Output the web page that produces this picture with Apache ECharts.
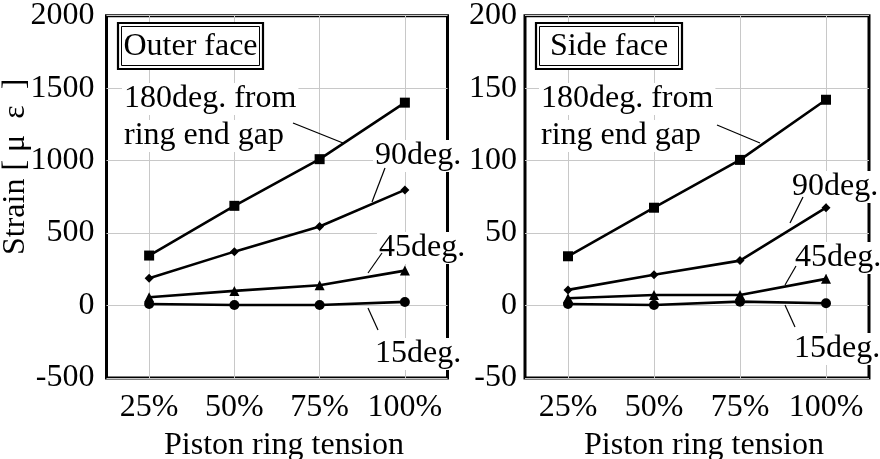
<!DOCTYPE html>
<html><head><meta charset="utf-8">
<script src="https://cdn.jsdelivr.net/npm/echarts@6/dist/echarts.min.js"></script>
<style>html,body{margin:0;padding:0;background:#fff}#c{width:880px;height:459px}</style>
</head><body><div id="c"></div>
<script>
// ---- data ----
const categories = ['25%', '50%', '75%', '100%'];
const outer180 = [345, 688, 1010, 1400];
const outer90 = [188, 372, 545, 798];
const outer45 = [57, 101, 140, 241];
const outer15 = [11, 4, 4, 25];
const side180 = [34, 67.5, 100.5, 142];
const side90 = [10.8, 21.3, 31, 67.5];
const side45 = [5, 7.3, 7.3, 18.4];
const side15 = [1.1, 0.4, 2.7, 1.6];
const outerTicks = [-500, 0, 500, 1000, 1500, 2000];
const sideTicks = [-50, 0, 50, 100, 150, 200];
const seriesNames = ['180deg. from ring end gap', '90deg.', '45deg.', '15deg.'];
const panelTitles = ['Outer face', 'Side face'];
const yName = 'Strain [ μ  ε  ]';
const xName = 'Piston ring tension';

const FONT = '"Liberation Serif", "Times New Roman", serif';
const chart = echarts.init(document.getElementById('c'), null, {renderer: 'canvas'});

const symbols = [['rect', 10], ['diamond', 9], ['triangle', 10], ['circle', 10]];
function mkSeries(arrs, idx) {
  return arrs.map((d, i) => ({
    name: seriesNames[i], type: 'line', xAxisIndex: idx, yAxisIndex: idx, data: d,
    symbol: symbols[i][0], symbolSize: symbols[i][1], showSymbol: true,
    lineStyle: {color: '#000', width: 2.6}, itemStyle: {color: '#000'},
    animation: false, z: 5
  }));
}
function xAx(idx) {
  return {
    type: 'category', gridIndex: idx, data: categories, boundaryGap: true,
    axisLine: {show: false}, axisTick: {show: false},
    axisLabel: {interval: 0, margin: 14, color: '#000', fontFamily: FONT, fontSize: 32},
    splitLine: {show: true, alignWithLabel: true, lineStyle: {color: '#c8c8c8', width: 1}},
    name: xName, nameLocation: 'middle', nameGap: 52,
    nameTextStyle: {color: '#000', fontFamily: FONT, fontSize: 32, padding: [0, 0, 0, 14]}
  };
}
function yAx(idx, ticks, margin, withName) {
  const o = {
    type: 'value', gridIndex: idx, min: ticks[0], max: ticks[ticks.length - 1],
    interval: ticks[1] - ticks[0],
    axisLine: {show: false}, axisTick: {show: false},
    axisLabel: {margin: margin, color: '#000', fontFamily: FONT, fontSize: 32,
      formatter: function (v) { return String(v); }},
    splitLine: {show: true, lineStyle: {color: '#c8c8c8', width: 1}}
  };
  if (withName) {
    Object.assign(o, {
      name: yName, nameLocation: 'middle', nameGap: 75, nameMoveOverlap: false,
      nameTextStyle: {color: '#000', fontFamily: FONT, fontSize: 32, padding: [0, 0, 0, 60]}
    });
  }
  return o;
}

function txt(text, x, y, align) {
  return {type: 'text', x: x, y: y, z: 50,
    style: {text: text, font: '32px ' + FONT, fill: '#000', align: align || 'left',
      verticalAlign: 'middle', backgroundColor: '#fff', padding: [0, 2, 0, 2]}};
}
function ln(x1, y1, x2, y2) {
  return {type: 'line', z: 60, shape: {x1, y1, x2, y2}, style: {stroke: '#000', lineWidth: 1.2}};
}
function box(x, y, w, h, title) {
  return [
    {type: 'rect', z: 50, shape: {x, y, width: w, height: h}, style: {fill: '#fff', stroke: '#000', lineWidth: 2.2}},
    {type: 'rect', z: 51, shape: {x: x + 3.5, y: y + 3.5, width: w - 7, height: h - 7}, style: {fill: 'none', stroke: '#000', lineWidth: 1}},
    {type: 'text', z: 52, x: x + w / 2, y: y + h / 2 + 1, style: {text: title, font: '32px ' + FONT, fill: '#000', align: 'center', verticalAlign: 'middle'}}
  ];
}

const graphics = [].concat(
  box(118, 23, 145, 46, panelTitles[0]),
  box(536, 23, 146, 46, panelTitles[1]),
  [
    txt('180deg. from', 122, 99), txt('ring end gap', 122, 136),
    txt('90deg.', 373, 156), txt('45deg.', 377, 248), txt('15deg.', 373, 354),
    ln(293, 123, 343, 143), ln(385, 168, 372, 202), ln(382, 253, 368, 273), ln(368, 308, 378, 330),
    txt('180deg. from', 539, 99), txt('ring end gap', 539, 136),
    txt('90deg.', 790, 187), txt('45deg.', 793, 258), txt('15deg.', 792, 349),
    ln(717, 125, 760, 143), ln(803, 197, 790, 223), ln(796, 266, 785, 285), ln(785, 305, 795, 327)
  ]
);

chart.setOption({
  animation: false,
  backgroundColor: '#fff',
  textStyle: {fontFamily: FONT},
  grid: [
    {left: 106.5, top: 15.7, width: 341, height: 362.3, show: true, borderColor: '#000', borderWidth: 3, backgroundColor: 'transparent', containLabel: false, outerBoundsMode: 'none'},
    {left: 525, top: 15.7, width: 344, height: 362.3, show: true, borderColor: '#000', borderWidth: 3, backgroundColor: 'transparent', containLabel: false, outerBoundsMode: 'none'}
  ],
  xAxis: [xAx(0), xAx(1)],
  yAxis: [yAx(0, outerTicks, 12, true), yAx(1, sideTicks, 8, false)],
  series: mkSeries([outer180, outer90, outer45, outer15], 0).concat(mkSeries([side180, side90, side45, side15], 1)),
  graphic: graphics
});
</script>
</body></html>
